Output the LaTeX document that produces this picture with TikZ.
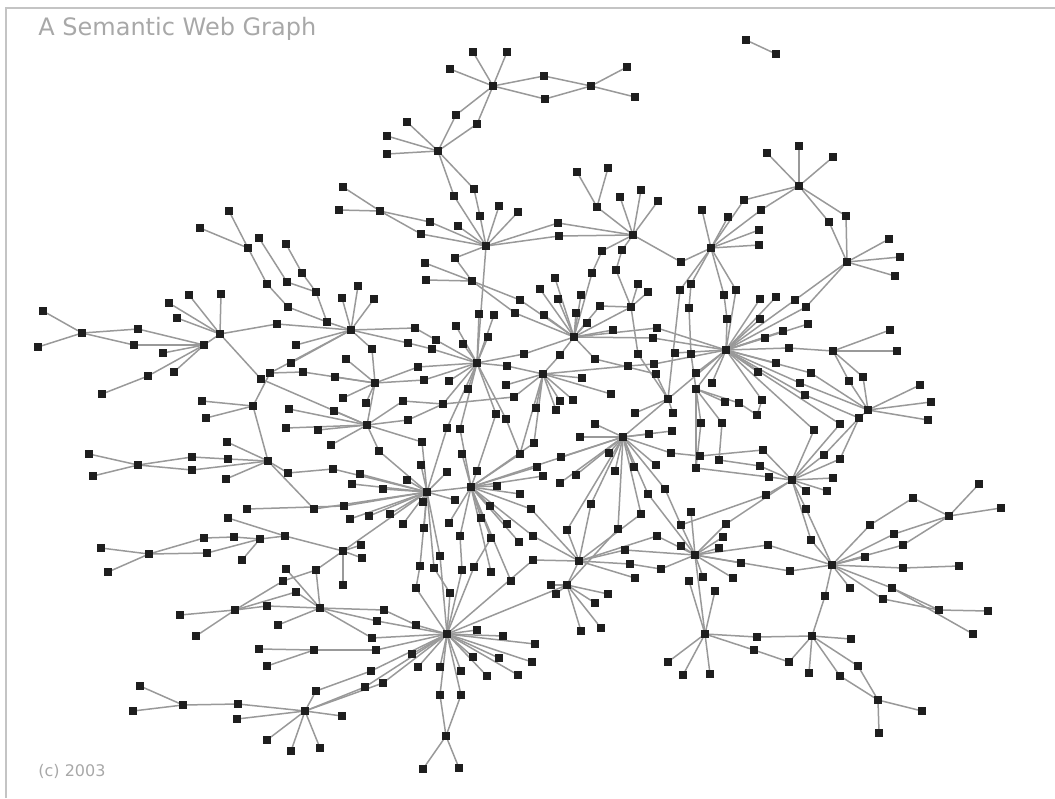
\documentclass[tikz,border=0pt]{standalone}
\usepackage{fontspec}
\usetikzlibrary{backgrounds}
\newfontfamily\ttlfont{DejaVu Sans}
\definecolor{nodec}{HTML}{1E1E1E}
\definecolor{edgec}{HTML}{999999}
\definecolor{framec}{HTML}{C4C4C4}
\definecolor{textc}{HTML}{A8A8A8}
\tikzset{
  v/.style={rectangle, fill=nodec, inner sep=0pt, minimum size=3.6pt},
  e/.style={draw=edgec, line width=0.75pt},
  lbl/.style={anchor=base west, inner sep=0pt, text=textc}
}
\begin{document}
\begin{tikzpicture}[x=0.5pt,y=-0.5pt]
\useasboundingbox (0,0) rectangle (1055,798);
\draw[framec, line width=1pt] (6,798) -- (6,8) -- (1055,8);
\node[lbl, font={\ttlfont\fontsize{12}{14}\selectfont}] (title) at (38,35) {A Semantic Web Graph};
\node[lbl, font={\ttlfont\fontsize{8}{10}\selectfont}] (copy) at (38,776) {(c) 2003};
\foreach \nm/\x/\y in {
A0/493/86, a1/473/52, a2/507/52, a3/450/69, a4/544/76, a5/545/99, A1/591/86, a6/627/67, a7/635/97, a8/456/115, a9/477/124,
B0/438/151, b1/407/122, b2/387/136, b3/387/154, b4/454/196, b5/474/189, b6/480/216,
C0/486/246, c1/499/206, c2/518/212, c3/458/226, c4/430/222, c5/421/234, c6/380/211, c7/343/187, c8/339/210, c9/425/263, c10/455/258,
D0/633/235, d1/558/223, d2/559/236, d3/620/197, d4/641/190, d5/658/201, d6/597/207, d7/577/172, d8/608/168, d9/602/251, d10/622/250, d11/681/262,
E0/711/248, e1/702/210, e2/728/217, e3/744/200, e4/761/210, e5/759/230, e6/759/245,
F0/799/186, f1/799/146, f2/833/157, f3/767/153, f4/846/216, f5/829/222,
G0/847/262, g1/889/239, g2/900/257, g3/895/276, g4/795/300, g5/806/307,
z1/746/40, z2/776/54,
K0/726/350, k1/760/299, k2/776/297, k3/760/319, k4/783/331, k5/765/338, k6/789/348, k7/776/363, k8/758/372, k9/727/319, k10/691/354, k11/675/353, k12/712/383, k13/696/373, k14/689/308, k15/691/284, k16/680/290, k17/724/295, k18/736/290, k19/808/324,
K1/696/389, k20/701/423, k21/722/423, k22/725/402, k23/739/403, k24/762/400, k25/757/415,
L0/833/351, l1/890/330, l2/897/351, l3/863/377, l4/849/381,
M0/868/410, m1/920/385, m2/931/402, m3/928/420, m4/859/418, m5/811/373, m6/800/383, m7/805/395, m8/840/424, m9/814/430,
N0/792/480, n1/824/455, n2/840/459, n3/833/478, n4/806/491, n5/827/491, n6/806/509, n7/766/495, n8/763/450, n9/760/466, n10/769/477,
P0/949/516, p1/979/484, p2/1001/508, p3/913/498, p4/870/525,
Q0/832/565, q1/811/540, q2/894/534, q3/903/545, q4/865/557, q5/903/568, q6/959/566, q7/850/588, q8/892/588, q9/883/599, q10/939/610, q11/988/611, q12/973/634, q13/825/596, q14/790/571,
R0/812/636, r1/851/639, r2/809/673, r3/858/666, r4/840/676,
S0/878/700, s1/922/711, s2/879/733,
T0/705/634, t1/668/662, t2/683/675, t3/710/674, t4/757/637, t5/754/650, t6/789/662,
U0/695/555, u1/681/546, u2/723/537, u3/719/548, u4/741/563, u5/733/578, u6/689/581, u7/703/577, u8/715/591, u9/661/569, u10/657/536, u11/768/545, u12/681/525, u13/691/512, u14/726/524,
V0/579/561, v1/533/536, v2/533/560, v3/625/550, v4/630/564, v5/635/578,
W0/567/585, w1/551/585, w2/556/594, w3/608/594, w4/595/603, w5/581/631, w6/601/628, w7/535/644, w8/532/662,
X0/477/363, x1/456/326, x2/463/344, x3/479/314, x4/494/315, x5/488/337, x6/418/367, x7/424/380, x8/449/381, x9/468/389, x10/507/366, x11/524/354, x12/436/340, x13/432/349, x14/415/328, x15/408/343, x16/443/404, x17/447/428, x18/460/429, x19/403/401, x20/408/420, x21/496/414, x22/506/419,
Y0/472/281, y1/426/280, y2/520/300, y3/515/313,
Z0/574/337, z3/544/315, z4/558/299, z5/540/289, z6/555/278, z7/576/313, z8/581/295, z9/587/323, z10/600/306, z11/613/330, z12/560/355, z13/595/359, z14/657/328, z15/653/338,
O0/631/307, o1/638/284, o2/648/292, o3/616/270, o4/592/273, o5/638/354, o6/654/364, o7/628/366, o8/656/374,
I0/543/374, i1/582/378, i2/611/394, i3/560/401, i4/573/400, i5/536/408, i6/556/410, i7/514/397, i8/506/385,
J0/668/399, j1/673/413, j2/635/413,
H0/623/437, h1/580/437, h2/595/424, h3/649/434, h4/672/431, h5/609/453, h6/615/471, h7/634/467, h8/656/465, h9/671/453, h10/700/456, h11/719/460, h12/696/468, h13/665/489, h14/648/494, h15/641/514, h16/618/529, h17/591/504, h18/567/530,
g6/534/443, g7/537/467, g8/543/476, g9/560/483, g10/576/475, g11/561/457, g12/531/509,
BB/351/330, bb1/342/298, bb2/358/286, bb3/374/299, bb4/327/322, bb5/302/273, bb6/316/292, bb7/287/282, bb8/267/284, bb9/288/307, bb10/277/324, bb11/296/345, bb12/291/363, bb13/270/373, bb14/303/372,
CC/375/383, cc1/346/359, cc2/372/349, cc3/335/377, cc4/343/398, cc5/366/403,
DD/367/425, dd1/289/409, dd2/334/411, dd3/286/428, dd4/318/430, dd5/331/445, dd6/379/451, dd7/422/442,
ul1/229/211, ul2/200/228, ul3/248/248, ul4/259/238, ul5/286/244,
EE/220/334, ee1/221/294, ee2/189/295, ee3/169/303, ee4/177/318, ee5/261/379,
FF/204/345, ff1/138/329, ff2/134/345, ff3/163/353, ff4/174/372, ff5/148/376, ff6/102/394,
GG/82/333, gg1/43/311, gg2/38/347,
HH/253/406, hh1/202/401, hh2/206/418,
II/268/461, ii1/227/442, ii2/226/479, ii3/228/459, ii4/192/457, ii5/192/470, ii6/288/473, ii7/333/469,
JJ/138/465, jj1/89/454, jj2/93/476,
KK/149/554, kk1/101/548, kk2/108/572, kk3/204/538, kk4/234/537, kk5/207/553, kk6/242/560,
LL/260/539, ll1/285/536, ll2/247/509, ll3/228/518,
MM/343/551, mm1/361/545, mm2/362/558, mm3/343/585, mm4/286/569, mm5/316/570, mm6/283/581, mm7/296/592,
NN/235/610, nn1/180/615, nn2/196/636, nn3/259/649, nn4/267/606,
OO/320/608, oo1/278/625, oo2/384/610, oo3/377/621, oo4/416/625, oo5/372/638, oo6/376/650, oo7/314/650, oo8/267/666,
PP/427/492, pp1/407/480, pp2/423/502, pp3/383/489, pp4/360/474, pp5/352/484, pp6/421/465, pp7/447/472, pp8/455/500, pp9/403/524, pp10/424/528, pp11/390/514, pp12/369/516, pp13/350/519, pp14/314/509, pp15/344/506,
QQ/471/487, qq1/497/486, qq2/520/494, qq3/490/506, qq4/507/524, qq5/481/518, qq6/477/471, qq7/462/454, qq8/520/454, qq9/449/523,
RR/447/634, rr1/440/667, rr2/461/671, rr3/473/657, rr4/487/676, rr5/499/658, rr6/518/675, rr7/477/630, rr8/503/636, rr9/412/654, rr10/418/667, rr11/416/588, rr12/450/593, rr13/420/566, rr14/434/568, rr15/440/556, rr16/462/570, rr17/474/567, rr18/491/572, rr19/511/581, rr20/460/536, rr21/491/538, rr22/519/542, rr23/440/695, rr24/461/695,
SS/446/736, ss1/423/769, ss2/459/768,
TT/305/711, tt1/342/716, tt2/267/740, tt3/291/751, tt4/320/748, tt5/316/691, tt6/365/687, tt7/383/683, tt8/371/671, tt9/238/704, tt10/237/719,
UU/183/705, uu1/140/686, uu2/133/711}
  \node[v] (\nm) at (\x,\y) {};
\begin{pgfonlayer}{background}
\foreach \a/\b in {
A0/a1, A0/a2, A0/a3, A0/a4, a4/A1, A0/a5, a5/A1, A1/a6, A1/a7, A0/a8, a8/B0, A0/a9, a9/B0,
B0/b1, B0/b2, B0/b3, B0/b4, b4/C0, B0/b5, b5/b6, b6/C0,
C0/c1, C0/c2, C0/c3, C0/c4, c4/c6, C0/c5, c5/c6, c6/c7, c6/c8, C0/c10, c10/Y0, c9/Y0, C0/X0,
C0/d1, d1/D0, C0/d2, d2/D0, D0/d3, D0/d4, D0/d5, D0/d6, d6/d7, d6/d8, D0/d9, D0/d10, D0/d11, d11/E0, d9/o4, d10/o3,
E0/e1, E0/e2, E0/e3, E0/e4, E0/e5, E0/e6, e3/F0, e4/F0, F0/f1, F0/f2, F0/f3, F0/f4, f4/G0, F0/f5, f5/G0,
G0/g1, G0/g2, G0/g3, G0/g4, g4/K0, G0/g5, g5/K0,
z1/z2,
E0/k15, k15/k14, k14/k10, k10/K1, E0/k16, k16/J0, E0/k17, k17/k9, k9/K0, E0/k18, k18/K0,
K0/k1, K0/k2, K0/k3, K0/k4, K0/k5, K0/k6, k6/L0, K0/k7, K0/k8, K0/k11, K0/k12, K0/k13, K0/k19, K0/K1,
K1/k20, K1/k21, K1/k22, K1/k23, k23/k25, K0/k24, k24/k25,
L0/l1, L0/l2, L0/l3, L0/l4, l4/M0, l3/M0,
K0/m5, m5/M0, K0/m6, m6/M0, K0/m7, m7/m4, M0/m1, M0/m2, M0/m3, M0/m4, m4/n1, m4/n2, n1/N0, n2/N0, K0/m8, m8/N0, K0/m9, m9/N0,
N0/n3, N0/n4, N0/n5, N0/n6, N0/n7, n7/u12, h10/n8, n8/N0, h11/n9, n9/N0, h12/n10, n10/N0,
P0/p1, P0/p2, P0/p3, p3/p4, p4/Q0, P0/q2, q2/Q0, P0/q3, q3/Q0, Q0/q4, Q0/q5, q5/q6, Q0/q7, Q0/q8, q8/q10, Q0/q9, q9/q10, q10/q11, q8/q12, Q0/q1, q1/N0, n6/Q0,
Q0/q14, q14/U0, Q0/u11, u11/U0, Q0/q13, q13/R0,
R0/r1, R0/r2, R0/r3, r3/S0, R0/r4, r4/S0, S0/s1, S0/s2, R0/t4, t4/T0, R0/t6, t6/t5, t5/T0,
T0/t1, T0/t2, T0/t3, T0/U0, T0/u6, T0/u8,
U0/u1, U0/u2, U0/u3, U0/u4, U0/u5, U0/u7, U0/u9, U0/u10, U0/u12, U0/u13, U0/u14, u14/N0,
V0/v3, v3/U0, V0/v4, v4/u9, V0/v5, V0/v1, V0/v2, V0/W0, V0/u10,
W0/w1, W0/w2, W0/w3, W0/w4, W0/w5, W0/w6, RR/w7, RR/w8, QQ/v1, RR/v2, RR/W0,
H0/h13, h13/u12, H0/h14, h14/U0, H0/h15, h15/V0, H0/h16, h16/W0, H0/h17, h17/V0, H0/h18, h18/V0,
X0/x1, X0/x2, X0/x3, X0/x4, X0/x5, X0/x6, X0/x7, X0/x8, X0/x9, X0/x10, x10/I0, X0/x11, x11/Z0, X0/x12, x12/x14, X0/x13, x13/x15, x14/BB, x15/BB,
X0/x16, X0/x17, x17/PP, X0/x18, x18/QQ, x6/CC, x7/CC, x16/x19, x19/DD, x20/DD, x16/x20, x16/i7,
X0/x21, x21/qq6, X0/x22, x22/qq8,
Y0/y1, Y0/y2, y2/Z0, Y0/y3, y3/Z0,
Z0/z3, Z0/z4, Z0/z5, Z0/z6, Z0/z7, Z0/z8, Z0/z9, Z0/z10, Z0/z11, Z0/z12, Z0/z13, Z0/z14, z14/K0, Z0/z15, z15/K0, Z0/O0, Z0/o4, z12/I0,
O0/o1, O0/o2, O0/o3, O0/z10, O0/o5, o5/J0, z13/o8, o8/J0,
I0/i1, I0/i2, I0/i3, I0/i4, I0/i5, I0/i6, I0/i7, I0/i8, I0/o7, o7/o6, o6/K0, I0/g6, g6/QQ, I0/qq8,
J0/j1, J0/j2, K0/J0, J0/H0,
H0/h1, H0/h2, H0/h3, H0/h4, H0/h5, H0/h6, H0/h7, H0/h8, H0/h9, h9/h10, K1/h12, k20/h12, k21/h11, H0/QQ,
g7/QQ, g8/QQ, g9/H0, g10/H0, g11/H0, g12/QQ, g12/V0,
BB/bb1, BB/bb2, BB/bb3, BB/bb4, bb4/bb6, bb6/bb5, bb5/ul5, bb4/bb9, bb9/bb8, bb8/ul3, ul3/ul1, ul3/ul2, ul4/bb7, bb7/bb6,
BB/bb10, bb10/EE, BB/bb11, BB/bb12, BB/bb13, bb14/CC, bb14/bb13, EE/ee5, ee5/DD, HH/bb13,
CC/cc1, CC/cc2, CC/cc3, CC/cc4, CC/cc5, cc2/BB, CC/DD,
DD/dd1, DD/dd2, DD/dd3, DD/dd4, DD/dd5, DD/dd6, dd6/PP, DD/dd7, dd7/PP,
EE/ee1, EE/ee2, EE/ee3, EE/ee4, EE/FF,
FF/ff1, ff1/GG, FF/ff2, ff2/GG, FF/ff3, FF/ff4, FF/ff5, ff5/ff6, GG/gg1, GG/gg2,
HH/hh1, HH/hh2, HH/II,
II/ii1, II/ii2, II/ii3, ii3/ii4, ii4/JJ, II/ii5, ii5/JJ, JJ/jj1, JJ/jj2, II/ii6, ii6/ii7, ii7/PP, II/pp14, pp14/PP,
PP/pp1, PP/pp2, PP/pp3, PP/pp4, PP/pp5, PP/pp6, PP/pp7, PP/pp8, PP/pp9, PP/pp10, PP/pp11, PP/pp12, PP/pp13, PP/pp15, PP/QQ, PP/MM,
ll2/pp15, ll3/ll1,
KK/kk1, KK/kk2, KK/kk3, kk3/kk4, kk4/LL, KK/kk5, kk5/LL, LL/kk6, LL/ll1, ll1/MM,
MM/mm1, MM/mm2, MM/mm3, OO/mm4, OO/mm5, mm5/MM, NN/mm6, mm6/mm5, OO/mm7, mm7/NN, OO/nn4, nn4/NN,
NN/nn1, NN/nn2,
RR/oo6, oo6/oo7, oo7/nn3, oo7/oo8,
OO/oo1, OO/oo2, oo2/oo4, oo4/RR, OO/oo3, oo3/RR, OO/oo5, oo5/RR,
RR/rr1, RR/rr2, RR/rr3, RR/rr4, RR/rr5, RR/rr6, RR/rr7, RR/rr8, RR/rr9, RR/rr10,
RR/rr11, rr11/rr13, rr13/PP, RR/rr12, rr12/rr14, rr14/PP, RR/rr15, rr15/PP, RR/rr16, rr16/rr20, rr20/QQ, RR/rr17, rr17/rr21, rr21/QQ, QQ/rr18, QQ/rr19, QQ/rr22,
RR/rr23, rr23/SS, RR/rr24, rr24/SS, SS/ss1, SS/ss2,
RR/tt8, tt8/tt5, RR/tt7, tt7/TT, RR/tt6, tt6/TT, TT/tt1, TT/tt2, TT/tt3, TT/tt4, TT/tt5, TT/tt9, tt9/UU, TT/tt10, UU/uu1, UU/uu2,
QQ/qq1, QQ/qq2, QQ/qq3, QQ/qq4, QQ/qq5, QQ/qq6, QQ/qq7, QQ/qq8, QQ/qq9}
  \draw[e] (\a) -- (\b);
\end{pgfonlayer}
\end{tikzpicture}
\end{document}
